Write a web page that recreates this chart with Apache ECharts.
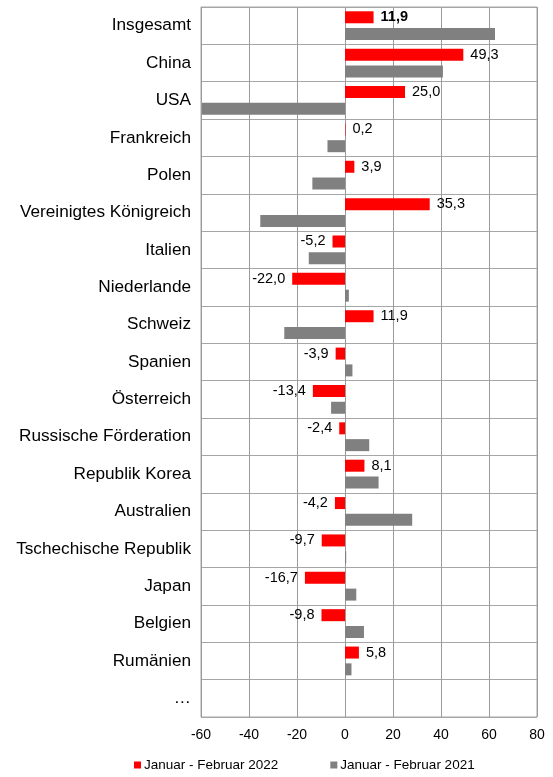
<!DOCTYPE html>
<html>
<head>
<meta charset="utf-8">
<script src="https://cdn.jsdelivr.net/npm/echarts@6/dist/echarts.min.js"></script>
<style>
  html, body { margin: 0; padding: 0; background: #fff; }
  #chart { width: 553px; height: 777px; }
</style>
</head>
<body>
<div id="chart"></div>
<script>
  // Veränderung gegenüber Vorjahreszeitraum in %
  const laender = ['Insgesamt', 'China', 'USA', 'Frankreich', 'Polen', 'Vereinigtes Königreich',
    'Italien', 'Niederlande', 'Schweiz', 'Spanien', 'Österreich', 'Russische Förderation',
    'Republik Korea', 'Australien', 'Tschechische Republik', 'Japan', 'Belgien', 'Rumänien', '…']
  const werte2022 = [11.9, 49.3, 25.0, 0.2, 3.9, 35.3, -5.2, -22.0, 11.9, -3.9, -13.4, -2.4,
    8.1, -4.2, -9.7, -16.7, -9.8, 5.8, null]
  const werte2021 = [62.5, 40.8, -59.6, -7.3, -13.6, -35.3, -15.1, 1.6, -25.3, 3.1, -5.8, 10.1,
    14.0, 28.0, 0.5, 4.7, 7.9, 2.7, null]
  const xTicks = [-60, 80, 20] // min, max, interval

  const FONT = '"Liberation Sans", Arial, sans-serif'
  const chart = echarts.init(document.getElementById('chart'))

  const fmt = v => v.toFixed(1).replace('.', ',')

  const data2022 = werte2022.map((v, i) => {
    if (v === null) return null
    return {
      value: v,
      label: {
        position: v < 0 ? 'left' : 'right',
        fontWeight: i === 0 ? 'bold' : 'normal'
      }
    }
  })

  chart.setOption({
    animation: false,
    textStyle: { fontFamily: FONT },
    grid: {
      left: 201,
      right: 16,
      top: 7,
      bottom: 60,
      show: true,
      borderColor: '#a6a6a6',
      borderWidth: 1
    },
    legend: {
      top: 753,
      left: 129,
      itemWidth: 7,
      itemHeight: 7,
      itemGap: 52,
      icon: 'rect',
      textStyle: { fontFamily: FONT, fontSize: 13.5, color: '#000', padding: [0, 0, 0, -2] },
      data: ['Januar - Februar 2022', 'Januar - Februar 2021']
    },
    xAxis: {
      type: 'value',
      min: xTicks[0],
      max: xTicks[1],
      interval: xTicks[2],
      axisLine: { show: false },
      axisTick: { show: false },
      splitLine: { show: true, lineStyle: { color: '#9a9a9a', width: 1 } },
      axisLabel: { fontFamily: FONT, fontSize: 14, color: '#000', margin: 11 }
    },
    yAxis: {
      type: 'category',
      inverse: true,
      data: laender,
      axisLine: { show: false, onZero: false },
      axisTick: { show: false },
      splitLine: { show: true, lineStyle: { color: '#a6a6a6', width: 1 } },
      axisLabel: { fontFamily: FONT, fontSize: 17.2, color: '#000', margin: 10 }
    },
    series: [
      {
        name: 'Januar - Februar 2022',
        type: 'bar',
        data: data2022,
        barWidth: 12,
        barGap: '40%',
        itemStyle: { color: '#ff0000' },
        label: {
          show: true,
          distance: 7,
          fontFamily: FONT,
          fontSize: 14.5,
          color: '#000',
          formatter: p => fmt(p.value)
        }
      },
      {
        name: 'Januar - Februar 2021',
        type: 'bar',
        data: werte2021,
        barWidth: 12,
        barGap: '40%',
        itemStyle: { color: '#808080' }
      }
    ]
  })
</script>
</body>
</html>
